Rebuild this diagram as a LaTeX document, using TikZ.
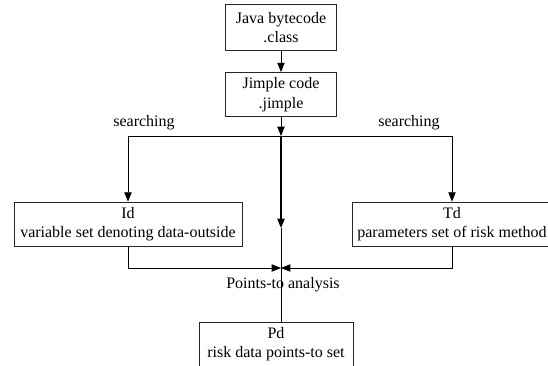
\documentclass[tikz,border=0pt]{standalone}
\usepackage{fontspec}
\setmainfont{Liberation Serif}
\usetikzlibrary{arrows.meta}

\begin{document}
\begin{tikzpicture}[x=0.75pt,y=-0.75pt,font=\fontsize{12}{14.5}\selectfont,line width=0.6pt]
\tikzstyle{box}=[draw=black!85,align=center,inner sep=0pt];
\tikzstyle{arr}=[-{Triangle[length=7pt,width=5.5pt]}];
\useasboundingbox (0,0) rectangle (548,365);
\clip (0,0) rectangle (548,365);
% boxes
\node[box,minimum width=83pt,minimum height=34pt] (java) at (281,27.5) {Java bytecode\\.class};
\node[box,minimum width=83pt,minimum height=33pt] (jimple) at (281,94.5) {Jimple code\\.jimple};
\node[box,minimum width=171pt,minimum height=33pt] (id) at (128,224) {Id\\variable set denoting data-outside};
\node[box,minimum width=150pt,minimum height=33pt] (td) at (452,224) {Td\\parameters set of risk method};
\node[box,minimum width=115.5pt,minimum height=33pt] (pd) at (276,344) {Pd\\risk data points-to set};
\coordinate (split) at (281,136);
\coordinate (mid) at (281,228);
\coordinate (join) at (281,268);
% labels
\node (srchl) at (144,123) {searching};
\node (srchr) at (409,123) {searching};
\node (pta) at (283,285) {Points-to analysis};
% connectors
\draw[arr] (java) -- (jimple);
\draw[arr] (jimple) -- (split);
\draw[arr] (split) -| (id);
\draw[arr] (split) -| (td);
\draw[arr,line width=0.85pt] (split) -- (mid);
\draw (mid) -- (mid |- pd.north);
\draw[arr] (id) |- (join);
\draw[arr] (td) |- (join);
\end{tikzpicture}
\end{document}
